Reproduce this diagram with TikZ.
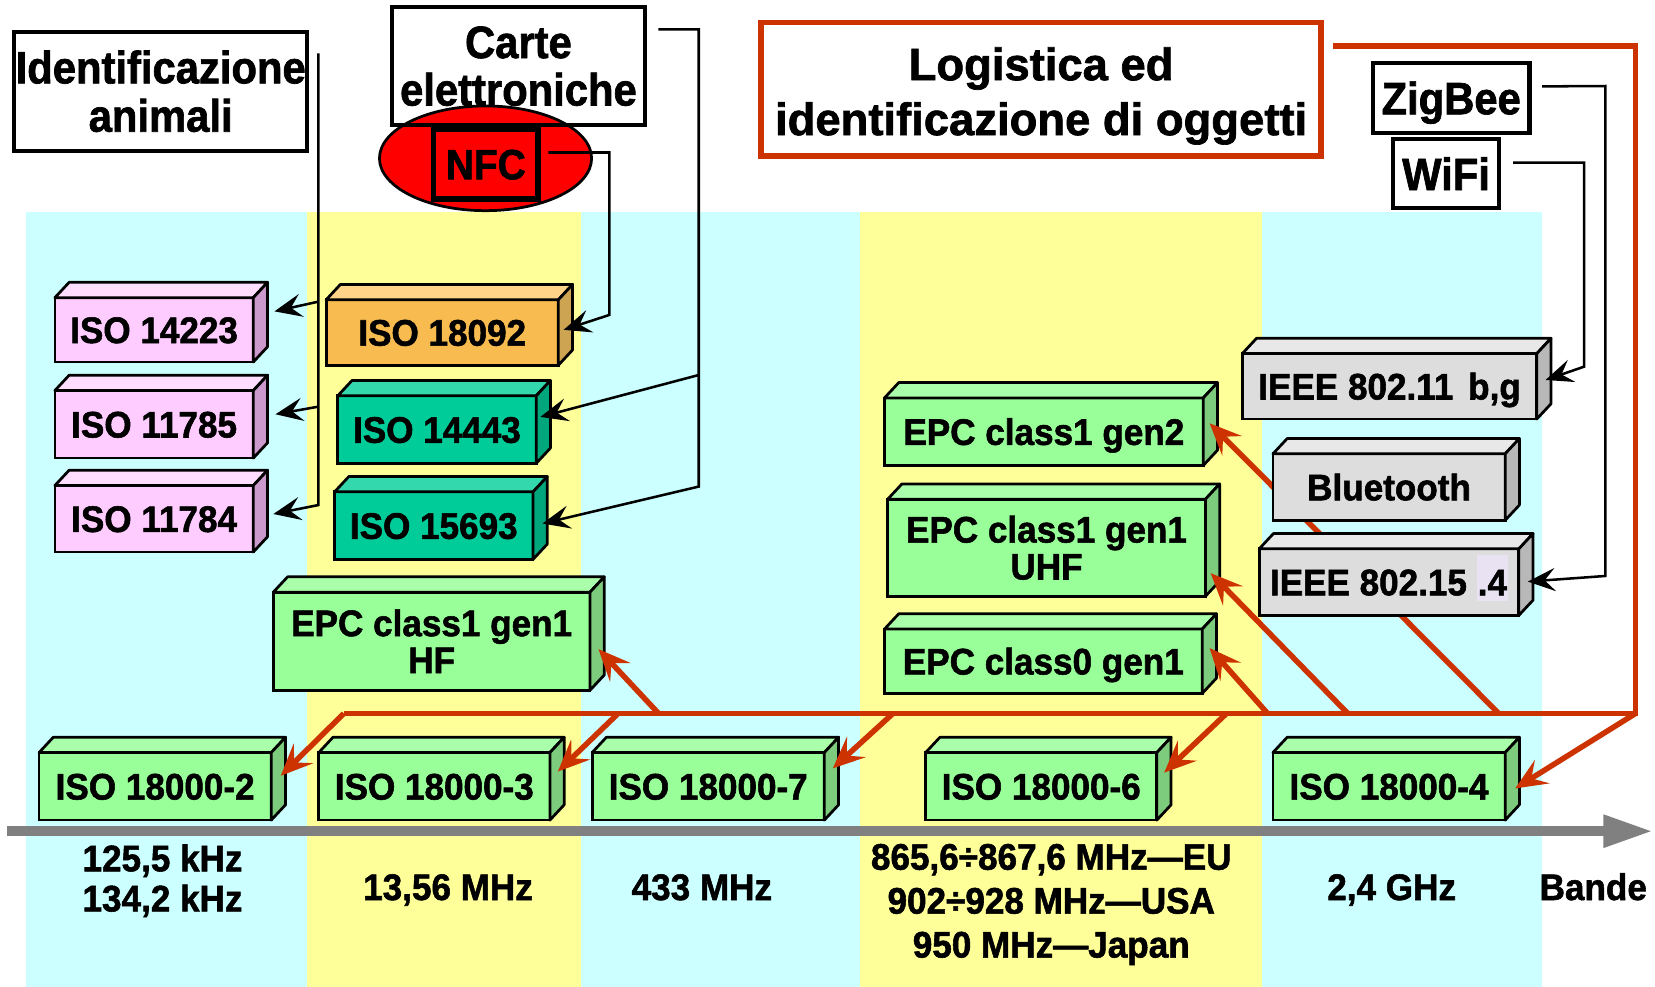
\documentclass[tikz,border=0pt]{standalone}
\usepackage{fontspec}
\setmainfont{Liberation Sans}[BoldFeatures={FakeBold=1.5}]
\newfontfamily\lblfont{Liberation Sans}[FakeStretch=0.95,BoldFeatures={FakeBold=1.5}]
\newfontfamily\ttlfont{Liberation Sans}[FakeStretch=0.92,BoldFeatures={FakeBold=1.5}]
\usetikzlibrary{arrows.meta,calc,shapes.geometric}
\definecolor{bandC}{HTML}{CCFFFF}
\definecolor{bandY}{HTML}{FFFF99}
\definecolor{redC}{HTML}{CC3300}
\definecolor{axisC}{HTML}{808080}
\definecolor{pinkF}{HTML}{FFCCFF}
\definecolor{pinkT}{HTML}{FFDDFF}
\definecolor{pinkS}{HTML}{CC99CC}
\definecolor{orngF}{HTML}{F8BB50}
\definecolor{orngT}{HTML}{FFD488}
\definecolor{orngS}{HTML}{CCA452}
\definecolor{tealF}{HTML}{00CC99}
\definecolor{tealT}{HTML}{33D9AD}
\definecolor{tealS}{HTML}{00A67C}
\definecolor{grnF}{HTML}{99FF99}
\definecolor{grnT}{HTML}{AAFFAA}
\definecolor{grnS}{HTML}{7DCC7D}
\definecolor{gryF}{HTML}{DDDDDD}
\definecolor{gryT}{HTML}{E8E8E8}
\definecolor{gryS}{HTML}{B8B8B8}
\definecolor{hlC}{HTML}{E8E2F2}
\definecolor{nfcC}{HTML}{FF0000}
% name, x1, y1, x2, y2, palette, extra options, text
\newcommand\mkcube[8]{%
  \node[cubefront, fill=#6F, minimum width={(#4-#2)*0.5pt}, minimum height={(#5-#3)*0.5pt}, #7] (#1) at (#2,#3) {#8};
  \filldraw[cubeedge, fill=#6T] (#1.north west) -- ++(13.5,-14.5) -- ++({#4-#2},0) -- (#1.north east) -- cycle;
  \filldraw[cubeedge, fill=#6S] (#1.north east) -- ++(13.5,-14.5) -- ++(0,{#5-#3}) -- (#1.south east) -- cycle;
}
\begin{document}
\begin{tikzpicture}[x=0.5pt,y=-0.5pt,
  cubefront/.style={draw=black, line width=1.3pt, anchor=north west, inner sep=0pt, outer sep=0pt, align=center,
    font=\lblfont\bfseries\fontsize{17.5}{17.5}\selectfont},
  cubeedge/.style={draw=black, line width=1.3pt, line join=round},
  oneline/.style={text height=12.5pt, text depth=0pt},
  twoline/.style={},
  ttlbox/.style={draw=black, line width=2pt, inner sep=0pt, outer sep=0pt, align=center},
  freq/.style={inner sep=0pt, align=center, font=\lblfont\bfseries\fontsize{17.5}{19}\selectfont},
  redl/.style={draw=redC, line width=2.6pt},
  redarr/.style={redl, -{Stealth[length=15pt,width=13pt,inset=6pt]}},
  blkl/.style={draw=black, line width=1.2pt},
  blkarr/.style={blkl, -{Stealth[length=13pt,width=11pt,inset=5pt]}},
  axisline/.style={draw=axisC, line width=4.75pt, -{Triangle[length=23.5pt,width=14.5pt]}}
]
\useasboundingbox (0,0) rectangle (1568,935);
\fill[white] (0,0) rectangle (1568,935);
% frequency bands
\fill[bandC] (24.5,200.5) rectangle (291,935);
\fill[bandY] (291,200.5) rectangle (550,935);
\fill[bandC] (550,200.5) rectangle (815,935);
\fill[bandY] (815,200.5) rectangle (1196,935);
\fill[bandC] (1196,200.5) rectangle (1460.5,935);
% axis
\draw[axisline] (7,787.5) -- (1566,787.5);
% band labels
\node[freq] (f1) at (154,834.5) {125,5 kHz\\134,2 kHz};
\node[freq, anchor=base] (f2) at (424.5,852.7) {13,56 MHz};
\node[freq, anchor=base] (f3) at (665,852.7) {433 MHz};
\node[freq, font=\lblfont\bfseries\fontsize{17.5}{20.8}\selectfont] (f4) at (996,857) {865,6÷867,6 MHz—EU\\902÷928 MHz—USA\\950 MHz—Japan};
\node[freq, anchor=base] (f5) at (1318.5,852.7) {2,4 GHz};
\node[freq, anchor=base] (f6) at (1509.5,852.7) {Bande};
% standards boxes
\mkcube{iso14223}{52}{282}{240}{343}{pink}{oneline}{ISO 14223}
\mkcube{iso11785}{52}{370}{240}{434}{pink}{oneline}{ISO 11785}
\mkcube{iso11784}{52}{460}{240}{523}{pink}{oneline}{ISO 11784}
\mkcube{iso18092}{309}{284}{529}{346}{orng}{oneline}{ISO 18092}
\mkcube{iso14443}{320}{375}{508}{439}{teal}{oneline}{ISO 14443}
\mkcube{iso15693}{317}{466}{505}{530}{teal}{oneline}{ISO 15693}
\mkcube{epchf}{259}{561}{559}{654}{grn}{twoline}{EPC class1 gen1\\HF}
\mkcube{isoa}{37}{713}{257}{777}{grn}{oneline}{ISO 18000-2}
\mkcube{isob}{302}{713}{521}{777}{grn}{oneline}{ISO 18000-3}
\mkcube{isoc}{561}{713}{781}{777}{grn}{oneline}{ISO 18000-7}
\mkcube{isod}{877}{713}{1096}{777}{grn}{oneline}{ISO 18000-6}
\mkcube{isoe}{1206}{713}{1426}{777}{grn}{oneline}{ISO 18000-4}
\mkcube{epcgtwo}{838}{377}{1140}{441}{grn}{oneline}{EPC class1 gen2}
\mkcube{epcuhf}{841}{473}{1142}{565}{grn}{twoline}{EPC class1 gen1\\UHF}
\mkcube{epczero}{838}{596}{1139}{657}{grn}{oneline}{EPC class0 gen1}
% application boxes
\node[ttlbox, minimum width=138.75pt, minimum height=56.5pt, font=\ttlfont\bfseries\fontsize{21.5}{22.9}\selectfont] (idbox) at (152.25,86.5) {Identificazione\\animali};
\node[ellipse, draw=black, line width=1.3pt, fill=nfcC, minimum width=100.5pt, minimum height=49.6pt, inner sep=0pt] (nfcell) at (460,150) {};
\node[ttlbox, minimum width=119.8pt, minimum height=55.7pt, font=\ttlfont\bfseries\fontsize{21.5}{22.5}\selectfont] (carte) at (491.2,62.7) {Carte\\elettroniche};
\node[ttlbox, line width=2.5pt, fill=nfcC, minimum width=49.3pt, minimum height=33pt, text height=14.3pt, text depth=0pt, font=\ttlfont\bfseries\fontsize{20}{20}\selectfont] (nfc) at (460.3,155.5) {NFC};
\node[ttlbox, draw=redC, line width=2.6pt, minimum width=265.35pt, minimum height=63.3pt, font=\bfseries\fontsize{21.5}{26}\selectfont] (logi) at (986.35,84.5) {\rule{0pt}{22pt}Logistica ed\\identificazione di oggetti};
\node[ttlbox, minimum width=74.1pt, minimum height=33.45pt, text height=15.4pt, text depth=0pt, font=\ttlfont\bfseries\fontsize{21.5}{21.5}\selectfont] (zig) at (1374.9,92.85) {ZigBee};
\node[ttlbox, minimum width=50pt, minimum height=32.7pt, text height=15.4pt, text depth=0pt, font=\ttlfont\bfseries\fontsize{21.5}{21.5}\selectfont] (wifi) at (1370,164.7) {WiFi};
% red connectors (logistics)
\coordinate (logisrc) at ($(logi.north east)+(11,22.3)$);
\coordinate (rcorner) at (1549.5,676);
\coordinate (hleft) at (325.7,676);
\coordinate (hb) at (585.6,676);
\coordinate (hhf) at (624,676);
\coordinate (hc) at (846,676);
\coordinate (hd) at (1162,676);
\coordinate (hzero) at (1201,676);
\coordinate (huhf) at (1277,676);
\coordinate (hgtwo) at (1420,676);
\draw[redl, line join=miter] (logisrc) -| (rcorner) -- (hleft);
\draw[redarr] (hleft) -- ($(isoa.north east)+(9,22)$);
\draw[redarr] (hb) -- ($(isob.north east)+(7.5,18)$);
\draw[redarr] (hc) -- ($(isoc.north east)+(8,15)$);
\draw[redarr] (hd) -- ($(isod.north east)+(7,19)$);
\draw[redarr] (rcorner) -- ($(isoe.north east)+(9.5,34)$);
\draw[redarr] (hhf) -- ($(epchf.north east)+(8,54)$);
\draw[redarr] (hzero) -- ($(epczero.north east)+(7,18)$);
\draw[redarr] (huhf) -- ($(epcuhf.north east)+(5,70)$);
\draw[redarr] (hgtwo) -- ($(epcgtwo.north east)+(6,24)$);
% wireless boxes
\mkcube{ieeea}{1177}{335}{1456}{397}{gry}{oneline}{IEEE 802.11\hskip7pt b,g}
\mkcube{bt}{1206}{430}{1426}{493}{gry}{oneline}{Bluetooth}
\mkcube{ieeeb}{1193}{520}{1439}{583}{gry}{oneline}{IEEE 802.15 \smash{\setlength\fboxsep{0pt}\colorbox{hlC}{\kern0.5pt\rule[-2.5pt]{0pt}{21.5pt}.4\kern0.5pt}}}
% black connectors
\coordinate (idsrc) at ($(idbox.north east)+(10.6,20.5)$);
\coordinate (idja) at (301.6,285.8);
\coordinate (idjb) at (301.6,385.3);
\coordinate (idjc) at (301.6,478.5);
\draw[blkarr] (idsrc) -- (idjc) -- ($(iso11784.north east)+(19,27)$);
\draw[blkarr] (idja) -- ($(iso14223.north east)+(20,13)$);
\draw[blkarr] (idjb) -- ($(iso11785.north east)+(21,22.5)$);
\coordinate (casrc) at ($(carte.north east)+(12.8,20.8)$);
\coordinate (cacorner) at (662,27.8);
\coordinate (caja) at (662,355.3);
\coordinate (cajb) at (662,461);
\draw[blkarr] (casrc) -- (cacorner) -- (cajb) -- ($(iso15693.north east)+(9,30)$);
\draw[blkarr] (caja) -- ($(iso14443.north east)+(4,20)$);
\coordinate (nfcsrc) at ($(nfc.east)+(10,-11)$);
\coordinate (nfca) at (577.3,144.5);
\coordinate (nfcb) at (577.3,298.4);
\draw[blkarr] (nfcsrc) -- (nfca) -- (nfcb) -- ($(iso18092.north east)+(5,28.5)$);
\coordinate (zsrc) at ($(zig.east)+(12,-11)$);
\coordinate (za) at (1521,81.5);
\coordinate (zb) at (1521,545.7);
\draw[blkarr] (zsrc) -- (za) -- (zb) -- ($(ieeeb.north east)+(8.5,31)$);
\coordinate (wsrc) at ($(wifi.east)+(13.5,-10.7)$);
\coordinate (wa) at (1500.8,154);
\coordinate (wb) at (1500.8,347.4);
\draw[blkarr] (wsrc) -- (wa) -- (wb) -- ($(ieeea.north east)+(8.3,25)$);
\end{tikzpicture}
\end{document}
